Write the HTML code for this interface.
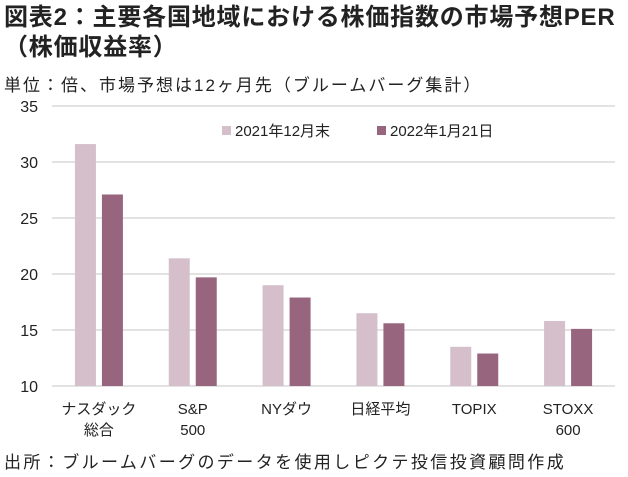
<!DOCTYPE html>
<html><head><meta charset="utf-8"><style>
body{margin:0;background:#fff;width:628px;height:477px;overflow:hidden;font-family:"Liberation Sans","Noto Sans CJK JP",sans-serif;}
.t{position:absolute;left:4px;color:#222;white-space:nowrap;}
</style></head><body>
<div class="t" style="top:3px;font-size:24px;font-weight:bold;line-height:30px;letter-spacing:0.8px">図表2：主要各国地域における株価指数の市場予想PER<br>（株価収益率）</div>
<div class="t" style="top:71px;font-size:17px;letter-spacing:2px">単位：倍、市場予想は12ヶ月先（ブルームバーグ集計）</div>
<div class="t" style="top:448px;font-size:17px;letter-spacing:2.4px">出所：ブルームバーグのデータを使用しピクテ投信投資顧問作成</div>
<svg id="c" width="628" height="477" style="position:absolute;left:0;top:0"></svg>
<script>
const categories=[["ナスダック","総合"],["S&P","500"],["NYダウ"],["日経平均"],["TOPIX"],["STOXX","600"]];
const series2021=[31.6,21.4,19.0,16.5,13.5,15.8];
const series2022=[27.1,19.7,17.9,15.6,12.9,15.1];
const yTicks=[10,15,20,25,30,35];
const seriesNames=["2021年12月末","2022年1月21日"];
const svg=document.getElementById('c');const NS='http://www.w3.org/2000/svg';
const x0=52,x1=615,yB=386,yT=106;
const y=v=>yB-(v-10)/25*(yB-yT);
const bw=(x1-x0)/categories.length;
const cx=i=>x0+bw*(i+0.5);
function mk(t,a,txt){const e=document.createElementNS(NS,t);for(const k in a)e.setAttribute(k,a[k]);if(txt!=null)e.textContent=txt;svg.appendChild(e);return e;}
yTicks.forEach(v=>{
 const l=mk('line',{x1:x0,x2:x1,y1:y(v),y2:y(v),stroke:'#d9d9d9','stroke-width':1.5});
 
 
 const t=mk('text',{x:38,y:y(v)+6,'text-anchor':'end','font-size':16,fill:'#222'},v);
 
 
});
categories.forEach((c,i)=>{
 const a=mk('rect',{x:cx(i)-24,y:y(series2021[i]),width:21,height:yB-y(series2021[i]),fill:'#d5bfca'});
 
 
 const b=mk('rect',{x:cx(i)+3,y:y(series2022[i]),width:21,height:yB-y(series2022[i]),fill:'#98657f'});
 
 
 c.forEach((s,j)=>{
  const t=mk('text',{x:cx(i),y:414+j*21,'text-anchor':'middle','font-size':15,fill:'#222'},s);
  
  
 });
});
const lx=[222,377],cols=['#d5bfca','#98657f'];
seriesNames.forEach((n,i)=>{
 const r=mk('rect',{x:lx[i],y:126,width:9,height:9,fill:cols[i]});
 
 
 const t=mk('text',{x:lx[i]+13,y:136,'font-size':15,fill:'#222'},n);
 
 
});
</script>
</body></html>
